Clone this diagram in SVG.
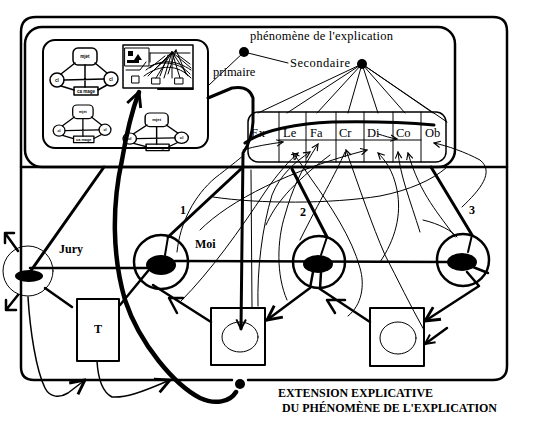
<svg xmlns="http://www.w3.org/2000/svg" width="552" height="434" viewBox="0 0 552 434">
<style>
.k{fill:none;stroke:#000;stroke-linecap:round;stroke-linejoin:round}
.w1{stroke-width:1}
.w15{stroke-width:1.5}
.w2{stroke-width:2}
.w25{stroke-width:2.5}
.w3{stroke-width:3}
.w5{stroke-width:4.5}
.f{fill:#000}
.s{font-family:"Liberation Serif","Times New Roman",serif;fill:#000;font-size:12.5px}
.b{font-weight:bold;font-size:12px}
.mini text{font-family:"Liberation Sans",Arial,sans-serif;font-size:4.5px;font-weight:bold;text-anchor:middle;fill:#000}
</style>
<defs>
<marker id="a" viewBox="0 0 10 10" refX="9" refY="5" markerWidth="8" markerHeight="8" orient="auto" markerUnits="userSpaceOnUse"><path d="M1,1 L9,5 L1,9" fill="none" stroke="#000" stroke-width="1.4"/></marker>
<marker id="m" viewBox="0 0 10 10" refX="9" refY="5" markerWidth="12" markerHeight="12" orient="auto" markerUnits="userSpaceOnUse"><path d="M1,1 L9,5 L1,9" fill="none" stroke="#000" stroke-width="1.6"/></marker>
<marker id="A" viewBox="0 0 10 10" refX="9" refY="5" markerWidth="18" markerHeight="18" orient="auto" markerUnits="userSpaceOnUse"><path d="M1,1 L9,5 L1,9" fill="none" stroke="#000" stroke-width="1.6"/></marker>
<g id="mini" class="mini">
<rect class="k w15" x="22" y="0" width="24" height="17" rx="5"/>
<text x="34" y="10">mjet</text>
<circle class="k w15" cx="6" cy="32" r="7"/>
<text x="6" y="34">cl</text>
<circle class="k w15" cx="60" cy="31" r="7"/>
<text x="60" y="33">cl</text>
<rect class="k w15" x="23" y="39" width="24" height="8"/>
<text x="35" y="45">ca mage</text>
<path class="k w15" d="M24,15 L10,26 M44,15 L56,25 M13,32 L53,31 M34,17 L34,39 M10,38 L23,42 M56,37 L47,42"/>
</g>
</defs>
<rect width="552" height="434" fill="#fff"/>

<g id="frames">
<path class="k w25" d="M248,380 L493,380 Q507,380 507,366 L507,31 Q507,17 493,17 L36,17 Q21,17 21,32 L21,367 Q21,380 34,380 L232,380"/>
<rect class="k w25" x="25" y="27" width="430" height="140" rx="17"/>
<path class="k w25" d="M21,167 L507,167"/>
<circle class="f" cx="240" cy="384" r="5"/>
</g>

<g id="thumbnails">
<rect class="k w2" x="43" y="40" width="165" height="108" rx="12"/>
<use href="#mini" transform="translate(51,48)"/>
<use href="#mini" transform="translate(54,105) scale(0.85,0.8)"/>
<use href="#mini" transform="translate(124,113) scale(0.96,0.8)"/>
<g id="mini-diagram">
<rect class="k w15" x="123" y="45" width="70" height="43"/>
<rect class="k w1" x="125" y="48" width="24" height="18"/>
<rect class="f" x="128" y="51" width="5" height="5"/>
<path class="f" d="M134,60 L138,54 L142,60 Z M127,60 h12 v3 h-12 Z"/>
<path class="k w1" d="M150,53 L190,53 M150,53 L150,62 M172,52 L148,76 M172,52 L156,78 M172,52 L164,78 M172,52 L172,78 M172,52 L180,78 M172,52 L188,76 M172,52 L191,68 M176,50 L152,72 M176,50 L168,74 M176,50 L186,74 M168,55 L160,76 M178,55 L190,64 M165,56 L150,68"/>
<path class="k w1" d="M146,70 C160,58 176,60 191,70 M144,76 C160,64 178,64 191,78 M126,70 L140,70 L146,62 M150,66 C165,60 180,63 190,74"/>
<rect class="k w1" x="132" y="76" width="7" height="7"/>
<rect class="k w1" x="152" y="78" width="8" height="6"/>
<rect class="k w1" x="175" y="78" width="8" height="6"/>
<path class="k w2" d="M158,89 L193,89"/>
</g>
</g>

<g id="labels-top">
<text class="s" x="250" y="40" textLength="143">phénomène de l'explication</text>
<circle id="primaire-dot" class="f" cx="244" cy="52" r="5"/>
<text class="s" x="213" y="76">primaire</text>
<text class="s" x="290" y="67" textLength="60">Secondaire</text>
<circle id="secondaire-dot" class="f" cx="362" cy="64" r="5"/>
</g>

<g id="table">
<rect class="k w15" x="248" y="112" width="198" height="50" rx="10"/>
<path class="k w1" d="M279,112 V162 M306,112 V162 M336,112 V162 M364,112 V162 M393,112 V162 M421,112 V162 M279,140 H421"/>
<text class="s" x="251" y="137">Ex</text>
<text class="s" x="283" y="137">Le</text>
<text class="s" x="310" y="137">Fa</text>
<text class="s" x="339" y="137">Cr</text>
<text class="s" x="367" y="137">Di</text>
<text class="s" x="396" y="137">Co</text>
<text class="s" x="425" y="137">Ob</text>
</g>

<g id="jury">
<circle class="k w1" cx="28" cy="271" r="25"/>
<ellipse class="f" cx="29" cy="276" rx="14" ry="6"/>
<text class="s b" x="59" y="253">Jury</text>
</g>
<g id="moi">
<circle class="k w25" cx="161" cy="262" r="27"/>
<ellipse class="f" cx="161" cy="265" rx="15" ry="10"/>
<text class="s b" x="195" y="248">Moi</text>
</g>
<g id="node2">
<circle class="k w25" cx="319" cy="262" r="26"/>
<ellipse class="f" cx="318" cy="264" rx="15" ry="9"/>
</g>
<g id="node3">
<circle class="k w25" cx="463" cy="260" r="26"/>
<ellipse class="f" cx="462" cy="262" rx="15" ry="9"/>
</g>
<g id="T">
<rect class="k w2" x="77" y="299" width="42" height="62"/>
<text class="s b" x="98" y="333" text-anchor="middle">T</text>
</g>
<g id="box1">
<rect class="k w2" x="211" y="308" width="54" height="57"/>
<ellipse class="k w1" cx="240" cy="337" rx="18" ry="15"/>
</g>
<g id="box2">
<rect class="k w2" x="370" y="308" width="54" height="58"/>
<ellipse class="k w1" cx="398" cy="338" rx="18" ry="16"/>
</g>

<g id="connectors">
<path class="k w1" d="M244,52 L288,63 M244,52 L209,85 M362,64 L258,113 M362,64 L287,113 M362,64 L317,113 M362,64 L348,113 M362,64 L378,113 M362,64 L405,113 M362,64 L433,113 M362,64 L447,122"/>
<path class="k w3" d="M208,98 L232,88 Q249,85 253,98 L253,122 Q252,140 243,153 L241,329" marker-end="url(#m)"/>
<path class="k w3" d="M245,143 C262,130 300,123 332,122 C375,121 412,123 434,125"/>
<path class="k w5" d="M236,392 C230,402 215,405 200,398 C175,385 140,345 125,300 C112,255 112,205 122,160 C127,130 133,108 139,92" marker-end="url(#A)"/>
<path class="k w3" d="M242,168 L168,237"/>
<path class="k w2" d="M168,237 L165,255"/>
<path class="k w3" d="M292,169 L327,237"/>
<path class="k w2" d="M327,237 L321,255"/>
<path class="k w3" d="M431,167 L472,235"/>
<path class="k w2" d="M472,235 L468,252"/>
<text class="s b" x="180" y="214">1</text>
<text class="s b" x="300" y="216">2</text>
<text class="s b" x="469" y="214">3</text>
<path class="k w25" d="M30,268 L150,268 M175,261 L449,262"/>
<path class="k w3" d="M30,272 L104,167"/>
<path class="k w25" d="M18,251 L5,233 M5,233 L14,233 M5,233 L5,243 M18,295 L6,310 M6,310 L6,300 M6,310 L16,310"/>
<path class="k w25" d="M45,288 L72,307"/>
<path class="k w25" d="M148,271 L120,305"/>
<path class="k w25" d="M211,322 L153,285 M183,298 L169,298 L177,313"/>
<path class="k w25" d="M313,272 L310,288 L267,320" marker-end="url(#A)"/>
<path class="k w25" d="M370,322 L320,289 L321,272 M345,300 L327,300 L335,313"/>
<path class="k w25" d="M467,272 L479,286 L425,321" marker-end="url(#A)"/>
<path class="k w25" d="M473,267 L488,273"/>
<path class="k w25" d="M447,328 L425,344" marker-end="url(#m)"/>
<path class="k w15" d="M28,297 C30,330 36,370 45,388 C50,398 60,398 68,393 L85,380" marker-end="url(#A)"/>
<path class="k w15" d="M97,361 C98,378 102,392 112,397 C125,398 140,393 170,380" marker-end="url(#A)"/>
<path class="k w1" d="M251,170 L252,307"/>
<path class="k w1" d="M213,197 C260,204 330,204 380,196 C410,190 432,180 446,168"/>
<path class="k w1" d="M177,252 C180,222 195,195 215,178 C228,168 238,160 244,155"/>
<path class="k w1" d="M181,301 C210,272 240,230 265,192 C278,173 290,160 298,153" marker-end="url(#a)"/>
<path class="k w1" d="M258,306 C257,270 262,228 272,195 C280,175 295,162 310,152" marker-end="url(#a)"/>
<path class="k w1" d="M287,300 C276,275 277,240 285,215 C292,190 300,172 318,144" marker-end="url(#a)"/>
<path class="k w1" d="M348,316 C362,305 365,285 360,268 C352,238 330,205 312,180 C305,170 300,162 293,153" marker-end="url(#a)"/>
<path class="k w1" d="M424,330 C410,305 398,280 385,255 C372,225 360,190 346,150" marker-end="url(#a)"/>
<path class="k w1" d="M462,207 C480,190 495,172 480,160 C465,152 448,146 434,143" marker-end="url(#a)"/>
<path class="k w1" d="M378,134 C385,136 390,138 397,139" marker-end="url(#a)"/>
<path class="k w1" d="M243,150 C255,146 270,144 283,142" marker-end="url(#a)"/>
<path class="k w1" d="M200,230 C230,200 290,170 367,150" marker-end="url(#a)"/>
<path class="k w1" d="M420,232 C410,200 400,175 398,152" marker-end="url(#a)"/>
<path class="k w1" d="M380,262 C395,240 402,215 397,190 C393,170 385,160 378,153" marker-end="url(#a)"/>
<path class="k w1" d="M455,237 C440,215 420,195 408,153" marker-end="url(#a)"/>
<path class="k w1" d="M423,220 C440,224 452,231 457,237"/>
<path class="k w1" d="M266,225 C275,205 290,185 330,155"/>
<path class="k w1" d="M300,240 C320,200 335,175 345,152"/>
</g>

<g id="caption">
<text class="s b" x="278" y="397" textLength="155">EXTENSION EXPLICATIVE</text>
<text class="s b" x="282" y="412" textLength="215">DU PHÉNOMÈNE DE L'EXPLICATION</text>
</g>
</svg>
